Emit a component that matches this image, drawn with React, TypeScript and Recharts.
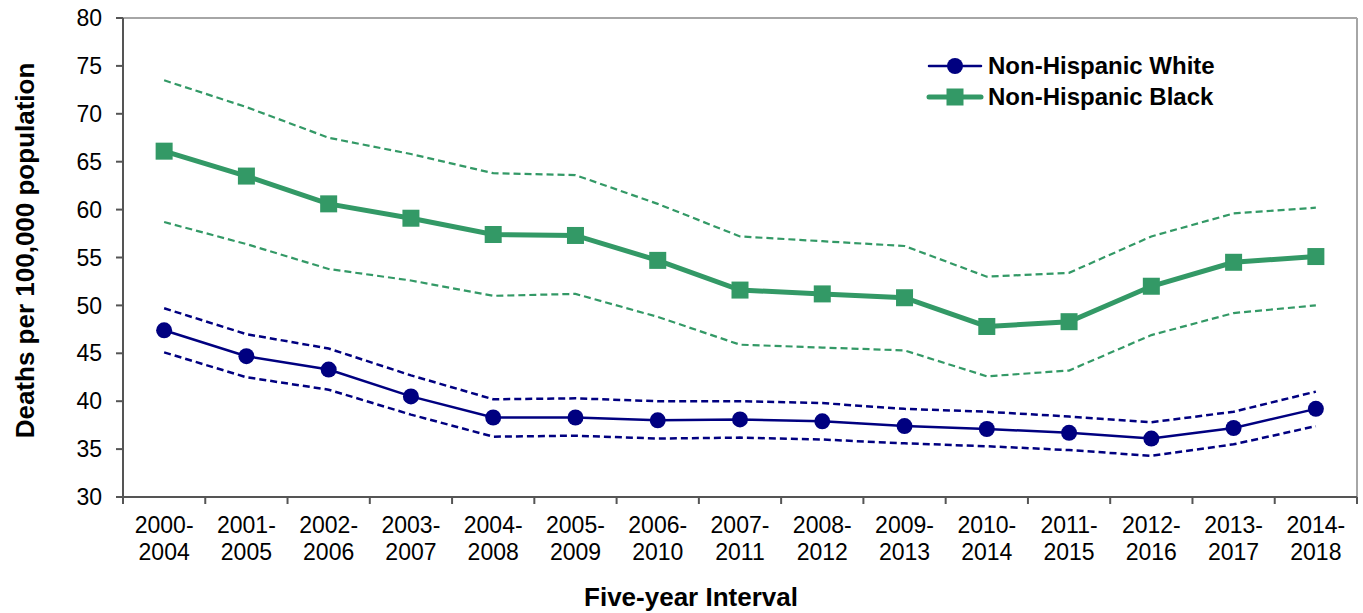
// Chart: five-year death rates, Non-Hispanic White vs Non-Hispanic Black, with dashed confidence bounds.

import { Label, Line, LineChart, ReferenceLine, XAxis, YAxis } from "recharts";

const intervals = [
  "2000-2004", "2001-2005", "2002-2006", "2003-2007", "2004-2008",
  "2005-2009", "2006-2010", "2007-2011", "2008-2012", "2009-2013",
  "2010-2014", "2011-2015", "2012-2016", "2013-2017", "2014-2018",
];

const whiteRate = [47.4, 44.7, 43.3, 40.5, 38.3, 38.3, 38.0, 38.1, 37.9, 37.4, 37.1, 36.7, 36.1, 37.2, 39.2];
const whiteUpper = [49.7, 47.0, 45.5, 42.7, 40.2, 40.3, 40.0, 40.0, 39.8, 39.2, 38.9, 38.4, 37.8, 38.9, 41.0];
const whiteLower = [45.1, 42.5, 41.2, 38.6, 36.3, 36.4, 36.1, 36.2, 36.0, 35.6, 35.3, 34.9, 34.3, 35.5, 37.4];

const blackRate = [66.1, 63.5, 60.6, 59.1, 57.4, 57.3, 54.7, 51.6, 51.2, 50.8, 47.8, 48.3, 52.0, 54.5, 55.1];
const blackUpper = [73.5, 70.7, 67.5, 65.8, 63.8, 63.6, 60.6, 57.2, 56.7, 56.2, 53.0, 53.4, 57.2, 59.6, 60.2];
const blackLower = [58.7, 56.4, 53.8, 52.6, 51.0, 51.2, 48.8, 45.9, 45.6, 45.3, 42.6, 43.2, 46.9, 49.2, 50.0];

const yTicks = [30, 35, 40, 45, 50, 55, 60, 65, 70, 75, 80];
const xTicks = intervals.map((_, i) => i).concat(intervals.length);

const WIDTH = 1363;
const HEIGHT = 613;
const Y_AXIS_W = 123;
const RIGHT = 6;
const HALF_BAND = (WIDTH - Y_AXIS_W - RIGHT) / intervals.length / 2;

const NAVY = "#000080";
const GREEN = "#339966";
const FONT = "'Liberation Sans', Arial, sans-serif";

const data = intervals.map((label, i) => ({
  pos: i + 0.5,
  label,
  white: whiteRate[i],
  whiteHi: whiteUpper[i],
  whiteLo: whiteLower[i],
  black: blackRate[i],
  blackHi: blackUpper[i],
  blackLo: blackLower[i],
}));

function IntervalTick(props: any) {
  const { x, y, payload } = props;
  const label = intervals[payload.value];
  if (!label) return null;
  const [from, to] = label.split("-");
  const cx = x + HALF_BAND;
  return (
    <text x={cx} y={y} textAnchor="middle" fontSize={23} fill="#000" fontFamily={FONT}>
      <tspan x={cx} dy={27}>{from}-</tspan>
      <tspan x={cx} dy={27}>{to}</tspan>
    </text>
  );
}

function YTitle(props: any) {
  const vb = props.viewBox;
  if (!vb) return null;
  const x = vb.x + 34;
  const y = vb.y + vb.height / 2 - 7;
  return (
    <text
      x={x}
      y={y}
      transform={`rotate(-90 ${x} ${y})`}
      textAnchor="middle"
      fontSize={26}
      fontWeight="bold"
      fill="#000"
      fontFamily={FONT}
    >
      Deaths per 100,000 population
    </text>
  );
}

function SquareDot(props: any) {
  const { cx, cy, index } = props;
  return <rect key={`sq-${index}`} x={cx - 8.5} y={cy - 8.5} width={17} height={17} fill={GREEN} />;
}

function CircleDot(props: any) {
  const { cx, cy, index } = props;
  return <circle key={`ci-${index}`} cx={cx} cy={cy} r={8} fill={NAVY} />;
}

function ChartLegend() {
  const items = [
    { name: "Non-Hispanic White", color: NAVY, width: 2.5, square: false },
    { name: "Non-Hispanic Black", color: GREEN, width: 5, square: true },
  ];
  return (
    <div style={{ position: "absolute", left: 926, top: 50, fontFamily: FONT }}>
      {items.map((it) => (
        <div key={it.name} style={{ display: "flex", alignItems: "center", height: 31 }}>
          <svg width={58} height={24} style={{ marginRight: 4 }}>
            <line x1={3} y1={12} x2={55} y2={12} stroke={it.color} strokeWidth={it.width} strokeLinecap="round" />
            {it.square ? (
              <rect x={20.5} y={3.5} width={17} height={17} fill={it.color} />
            ) : (
              <circle cx={29} cy={12} r={8} fill={it.color} />
            )}
          </svg>
          <span style={{ fontSize: 24, fontWeight: "bold", color: "#000", whiteSpace: "nowrap" }}>{it.name}</span>
        </div>
      ))}
    </div>
  );
}

export default function App() {
  return (
    <div style={{ position: "absolute", left: 0, top: 0, width: WIDTH, height: HEIGHT, background: "#fff", fontFamily: FONT }}>
      <LineChart width={WIDTH} height={HEIGHT} data={data} margin={{ top: 18, right: RIGHT, left: 0, bottom: 0 }}>
        <ReferenceLine y={80} stroke="#a6a6a6" strokeWidth={2} />
        <ReferenceLine x={intervals.length} stroke="#a6a6a6" strokeWidth={2} />
        <XAxis
          dataKey="pos"
          type="number"
          domain={[0, intervals.length]}
          ticks={xTicks}
          interval={0}
          height={116}
          stroke="#555"
          strokeWidth={2}
          tickSize={7}
          tickMargin={2}
          tick={<IntervalTick />}
        >
          <Label
            value="Five-year Interval"
            position="insideBottom"
            offset={7}
            dx={-49}
            style={{ fontSize: 26, fontWeight: "bold", fill: "#000", fontFamily: FONT }}
          />
        </XAxis>
        <YAxis
          domain={[30, 80]}
          ticks={yTicks}
          interval={0}
          width={Y_AXIS_W}
          stroke="#555"
          strokeWidth={2}
          tickSize={7}
          tickMargin={14}
          tick={{ fontSize: 23, fill: "#000", fontFamily: FONT }}
        >
          <Label content={<YTitle />} position="insideLeft" />
        </YAxis>
        <Line dataKey="blackHi" stroke={GREEN} strokeWidth={2.2} strokeDasharray="7 4" dot={false} legendType="none" isAnimationActive={false} />
        <Line dataKey="blackLo" stroke={GREEN} strokeWidth={2.2} strokeDasharray="7 4" dot={false} legendType="none" isAnimationActive={false} />
        <Line dataKey="whiteHi" stroke={NAVY} strokeWidth={2.5} strokeDasharray="7 4" dot={false} legendType="none" isAnimationActive={false} />
        <Line dataKey="whiteLo" stroke={NAVY} strokeWidth={2.5} strokeDasharray="7 4" dot={false} legendType="none" isAnimationActive={false} />
        <Line dataKey="white" name="Non-Hispanic White" stroke={NAVY} strokeWidth={2.5} dot={<CircleDot />} isAnimationActive={false} />
        <Line dataKey="black" name="Non-Hispanic Black" stroke={GREEN} strokeWidth={5} dot={<SquareDot />} isAnimationActive={false} />
      </LineChart>
      <ChartLegend />
    </div>
  );
}
